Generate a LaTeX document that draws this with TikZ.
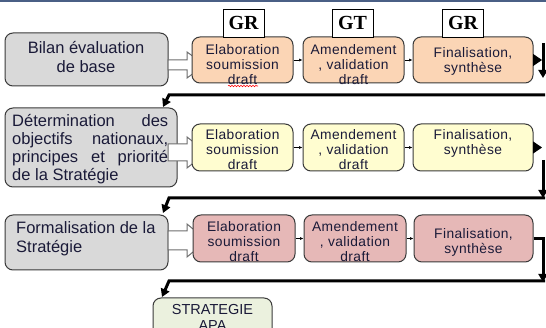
\documentclass[tikz,border=0pt]{standalone}
\usepackage{fontspec}
\setmainfont{Liberation Sans}
\newfontfamily\lblfont{Liberation Serif}
\usetikzlibrary{arrows.meta,decorations.pathmorphing}
\definecolor{grayfill}{HTML}{D9D9D9}
\definecolor{boxline}{HTML}{3A3A3A}
\definecolor{orfill}{HTML}{FBD5B5}
\definecolor{yefill}{HTML}{FFFDD0}
\definecolor{pkfill}{HTML}{E6B8B7}
\definecolor{grfill}{HTML}{EBF1DE}
\definecolor{txtcol}{HTML}{1A1A38}
\definecolor{topblue}{HTML}{4A5F85}
\definecolor{arrline}{HTML}{6E6E6E}
\newcommand\gfnt{\fontsize{16.5}{19}\selectfont}
\newcommand\bfnt{\fontsize{13.8}{15}\selectfont\addfontfeatures{LetterSpace=3}}
\begin{document}
\begin{tikzpicture}[x=1pt,y=-1pt,
  box/.style={draw=boxline, line width=1pt, rounded corners=8pt, inner sep=0pt},
  gbox/.style={box, fill=grayfill},
  obox/.style={box, fill=orfill, minimum height=46pt},
  ybox/.style={box, fill=yefill, minimum height=47pt},
  pbox/.style={box, fill=pkfill, minimum height=47pt},
  bt/.style={text=txtcol, font=\bfnt, align=center, inner sep=0pt},
  gt/.style={text=txtcol, font=\gfnt, inner sep=0pt},
  lbl/.style={draw=black, fill=white, line width=0.8pt, minimum width=41pt, minimum height=28pt, inner sep=0pt, font=\lblfont\fontsize{20}{20}\selectfont\bfseries},
  blockarr/.style={draw=arrline, fill=white, line width=1pt, line join=miter},
  thinarr/.style={line width=0.6pt, -{Latex[length=3.5pt,width=3pt]}},
  heavyarr/.style={line width=3pt, -{Triangle[length=8pt,width=9pt]}},
  tri/.style={line width=1pt, -{Triangle[length=9pt,width=12pt]}}
]
\clip (0,0) rectangle (546,328);
\fill[white] (0,0) rectangle (546,328);
\draw[topblue, line width=2pt] (0,1) -- (546,1);

% gray boxes
\node[gbox, minimum width=163pt, minimum height=53pt] (g1) at (86.5,59.5) {};
\node[gbox, minimum width=172pt, minimum height=79pt] (g2) at (91,147.5) {};
\node[gbox, minimum width=163pt, minimum height=55pt] (g3) at (86.5,242.5) {};

% block arrows
\draw[blockarr] (168,60) -- (187,60) -- (187,52) -- (205,65) -- (187,78) -- (187,70) -- (168,70) -- cycle;
\draw[blockarr] (168,144) -- (187,144) -- (187,137) -- (207,152.5) -- (187,168) -- (187,161) -- (168,161) -- cycle;
\draw[blockarr] (168,231) -- (187,231) -- (187,224) -- (207,240.5) -- (187,257) -- (187,250) -- (168,250) -- cycle;

% gray box texts
\node[gt, align=center] (g1t) at (86,57.5) {Bilan évaluation\\de base};
\node[gt, align=left, anchor=west, font=\fontsize{16.5}{18}\selectfont] (g2t) at (12,149.5)
  {\makebox[156pt][s]{Détermination des}\\\makebox[156pt][s]{objectifs nationaux,}\\\makebox[156pt][s]{principes et priorité}\\de la Stratégie};
\node[gt, align=left, anchor=west] (g3t) at (16,238.5) {Formalisation de la\\Stratégie};

% row 1
\node[obox, minimum width=101pt] (b11) at (242.5,60) {};
\node[obox, minimum width=101pt] (b12) at (353.5,60) {};
\node[obox, minimum width=120pt] (b13) at (473,60) {};
\node[bt] (b11t) at (242.5,64.5) {Elaboration\\soumission\\draft};
\node[bt] (b12t) at (353.5,64.5) {Amendement\\, validation\\draft};
\node[bt] (b13t) at (473,61) {Finalisation,\\synthèse};
\draw[red, line width=0.6pt, decorate, decoration={snake, amplitude=0.7pt, segment length=3pt}] (228,86) -- (258,86);
\node[lbl] (l1) at (243.5,23) {GR};
\node[lbl] (l2) at (352.5,23) {GT};
\node[lbl] (l3) at (463,23) {GR};

% row 2
\node[ybox, minimum width=101pt] (b21) at (242.5,147.5) {};
\node[ybox, minimum width=101pt] (b22) at (353.5,147.5) {};
\node[ybox, minimum width=120pt] (b23) at (473,147.5) {};
\node[bt] (b21t) at (242.5,150) {Elaboration\\soumission\\draft};
\node[bt] (b22t) at (353.5,150) {Amendement\\, validation\\draft};
\node[bt] (b23t) at (473,143) {Finalisation,\\synthèse};

% row 3
\node[pbox, minimum width=102pt] (b31) at (244,238.5) {};
\node[pbox, minimum width=102pt] (b32) at (355,238.5) {};
\node[pbox, minimum width=119pt] (b33) at (473.5,238.5) {};
\node[bt] (b31t) at (244,241.5) {Elaboration\\soumission\\draft};
\node[bt] (b32t) at (355,241.5) {Amendement\\, validation\\draft};
\node[bt] (b33t) at (473.5,242.5) {Finalisation,\\synthèse};

% final box
\node[box, fill=grfill, minimum width=119pt, minimum height=50pt] (s) at (212.5,323) {};
\node[text=txtcol, font=\fontsize{14.5}{16}\selectfont, align=center, inner sep=0pt] (st) at (212.5,317) {STRATEGIE\\APA};

% small arrows between boxes
\draw[thinarr] (b11) -- (b12);
\draw[thinarr] (b12) -- (b13);
\draw[thinarr] (b21) -- (b22);
\draw[thinarr] (b22) -- (b23);
\draw[thinarr] (b31) -- (b32);
\draw[thinarr] (b32) -- (b33);

% right connectors
\coordinate (t1) at (542,60);
\coordinate (t2) at (542,147.5);
\draw[tri] (b13.east) -- (t1);
\draw[tri] (b23.east) -- (t2);
\coordinate (v1a) at (543,43);  \coordinate (v1b) at (543,78);
\coordinate (v2a) at (543,160); \coordinate (v2b) at (543,198);
\draw[heavyarr] (v1a) -- (v1b);
\draw[heavyarr] (v2a) -- (v2b);
\coordinate (c3) at (543,238.5); \coordinate (v3b) at (543,282);
\draw[heavyarr] (b33.east) -- (c3) -- (v3b);

\coordinate (h1r) at (545,95);  \coordinate (h1m) at (169,95);  \coordinate (h1t) at (163,107);
\coordinate (h2r) at (545,198); \coordinate (h2m) at (169,198); \coordinate (h2t) at (163,213);
\coordinate (h3r) at (545,281); \coordinate (h3m) at (169,281); \coordinate (h3t) at (162,297);
\draw[heavyarr] (h1r) -- (h1m) -- (h1t);
\draw[heavyarr] (h2r) -- (h2m) -- (h2t);
\draw[heavyarr] (h3r) -- (h3m) -- (h3t);
\end{tikzpicture}
\end{document}
